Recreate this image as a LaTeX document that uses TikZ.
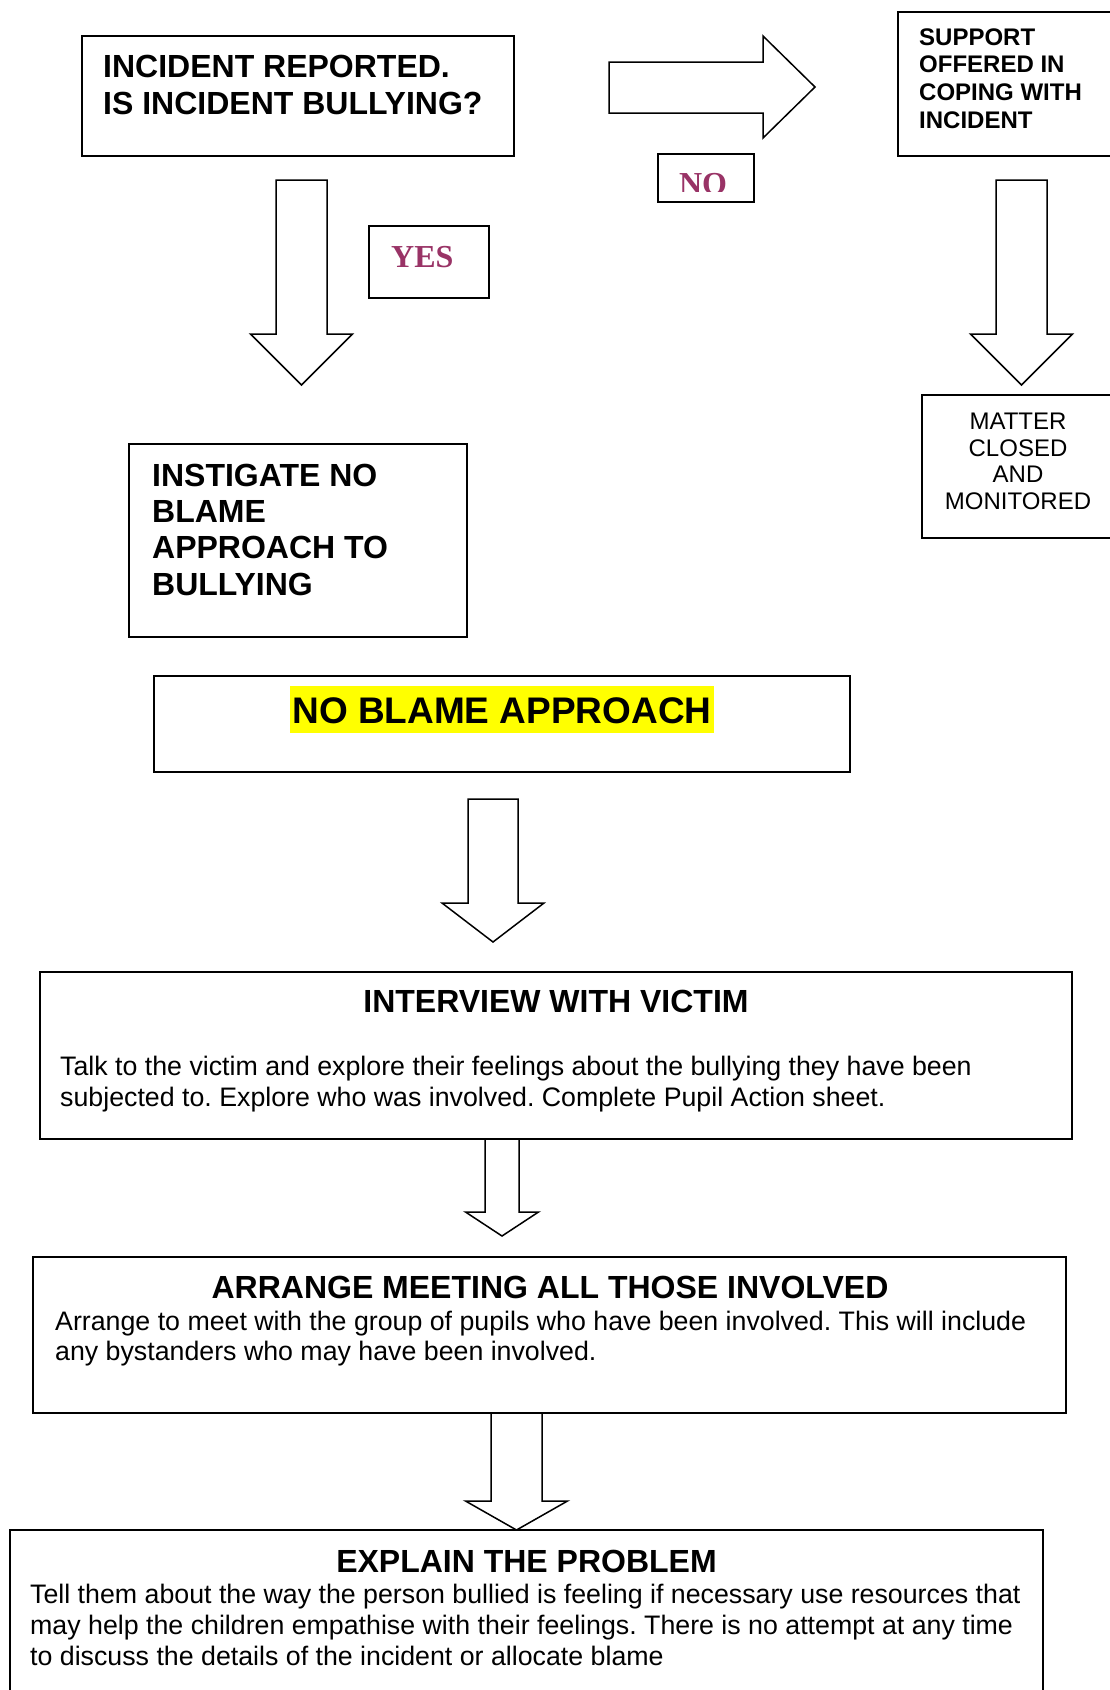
\documentclass[tikz,border=0pt]{standalone}
\usepackage{fontspec}
\newfontfamily\arialf{Liberation Sans}
\newfontfamily\tnrf{Liberation Serif}
\definecolor{plum}{HTML}{993366}
\definecolor{hiyellow}{HTML}{FFFF00}
\frenchspacing
\tikzset{
  box/.style={draw=black, line width=2pt, inner sep=0pt},
  lbl/.style={inner sep=0pt, anchor=base west},
  ctr/.style={inner sep=0pt, anchor=base},
  barrow/.style={draw=black, line width=1.5pt, line join=miter, fill=white},
}
\newcommand\hb{\arialf\bfseries\fontsize{32}{37}\selectfont}
\newcommand\smb{\arialf\bfseries\fontsize{24}{28}\selectfont}
\newcommand\smr{\arialf\fontsize{24}{28}\selectfont}
\newcommand\bodyf{\arialf\fontsize{26.75}{31}\selectfont\frenchspacing}
\newcommand\bigb{\arialf\bfseries\fontsize{37}{42}\selectfont}
\newcommand\yn{\tnrf\bfseries\fontsize{32}{37}\selectfont\color{plum}}
% #1 name, #2 cx, #3 top, #4 head base, #5 tip, #6 shaft half width, #7 head half width
\newcommand\blockdown[7]{%
  \coordinate (#1s) at (#2,#3);
  \coordinate (#1e) at (#2,#5);
  \draw[barrow] (#2-#6,#3) -- (#2+#6,#3) -- (#2+#6,#4) -- (#2+#7,#4) -- (#1e)
     -- (#2-#7,#4) -- (#2-#6,#4) -- cycle;
}
\begin{document}
\begin{tikzpicture}[x=1pt,y=-1pt]
\useasboundingbox (0,0) rectangle (1110,1690);
\clip (0,0) rectangle (1110,1690);

% block arrows
\coordinate (rs) at (609,87.5);
\coordinate (re) at (815,87);
\draw[barrow] (609,62) -- (763,62) -- (763,36) -- (re) -- (763,138) -- (763,113) -- (609,113) -- cycle;
\blockdown{aa}{301.5}{180}{334}{385}{25.5}{51}
\blockdown{ab}{1021.5}{180}{334}{385}{25.5}{51}
\blockdown{ac}{493}{799}{903}{942}{25}{51}
\blockdown{ad}{502}{1139}{1212}{1236}{17}{36.5}
\blockdown{ae}{516.5}{1413}{1501}{1530}{25.5}{51}

% boxes
\node[box, minimum width=432, minimum height=120] (report) at (298,96) {};
\node[lbl, font=\hb] (reportA) at (103,77) {INCIDENT REPORTED.};
\node[lbl, font=\hb] (reportB) at (103,114) {IS INCIDENT BULLYING?};

\node[box, minimum width=222, minimum height=144] (support) at (1009,84) {};
\node[lbl, font=\smb] (supA) at (919,45) {SUPPORT};
\node[lbl, font=\smb] (supB) at (919,72.5) {OFFERED IN};
\node[lbl, font=\smb] (supC) at (919,100) {COPING WITH};
\node[lbl, font=\smb] (supD) at (919,128) {INCIDENT};

\node[box, minimum width=120, minimum height=72] (yes) at (429,262) {};
\node[lbl, font=\yn] (yesT) at (391,267) {YES};

\node[box, minimum width=96, minimum height=48] (no) at (706,178) {};
\begin{scope}
  \clip (650,150) rectangle (760,191.5);
  \node[ctr, font=\yn] (noT) at (703,194) {NO};
\end{scope}

\node[box, minimum width=198, minimum height=143] (matter) at (1021,466.5) {};
\node[ctr, font=\smr] (matA) at (1018,429) {MATTER};
\node[ctr, font=\smr] (matB) at (1018,456) {CLOSED};
\node[ctr, font=\smr] (matC) at (1018,482) {AND};
\node[ctr, font=\smr] (matD) at (1018,509) {MONITORED};

\node[box, minimum width=338, minimum height=193] (instig) at (298,540.5) {};
\node[lbl, font=\hb] (insA) at (152,486) {INSTIGATE NO};
\node[lbl, font=\hb] (insB) at (152,522) {BLAME};
\node[lbl, font=\hb] (insC) at (152,558) {APPROACH TO};
\node[lbl, font=\hb] (insD) at (152,595) {BULLYING};

\node[box, minimum width=696, minimum height=96] (nba) at (502,724) {};
\node[ctr, font=\bigb, fill=hiyellow, inner xsep=2pt, text height=37pt, text depth=10pt] (nbaT) at (502,723) {NO BLAME APPROACH};

\node[box, minimum width=1032, minimum height=167] (interview) at (556,1055.5) {};
\node[ctr, font=\hb] (intT) at (556,1012) {INTERVIEW WITH VICTIM};
\node[lbl, font=\bodyf] (intA) at (60,1075) {Talk to the victim and explore their feelings about the bullying they have been};
\node[lbl, font=\bodyf] (intB) at (60,1106) {subjected to. Explore who was involved. Complete Pupil Action sheet.};

\node[box, minimum width=1033, minimum height=156] (arrange) at (549.5,1335) {};
\node[ctr, font=\hb] (arrT) at (550,1298) {ARRANGE MEETING ALL THOSE INVOLVED};
\node[lbl, font=\bodyf] (arrA) at (55,1330) {Arrange to meet with the group of pupils who have been involved. This will include};
\node[lbl, font=\bodyf] (arrB) at (55,1360) {any bystanders who may have been involved.};

\node[box, minimum width=1033, minimum height=180] (explain) at (526.5,1620) {};
\node[ctr, font=\hb] (expT) at (526.5,1572) {EXPLAIN THE PROBLEM};
\node[lbl, font=\bodyf] (expA) at (30,1603) {Tell them about the way the person bullied is feeling if necessary use resources that};
\node[lbl, font=\bodyf] (expB) at (30,1634) {may help the children empathise with their feelings. There is no attempt at any time};
\node[lbl, font=\bodyf] (expC) at (30,1665) {to discuss the details of the incident or allocate blame};
\end{tikzpicture}
\end{document}
